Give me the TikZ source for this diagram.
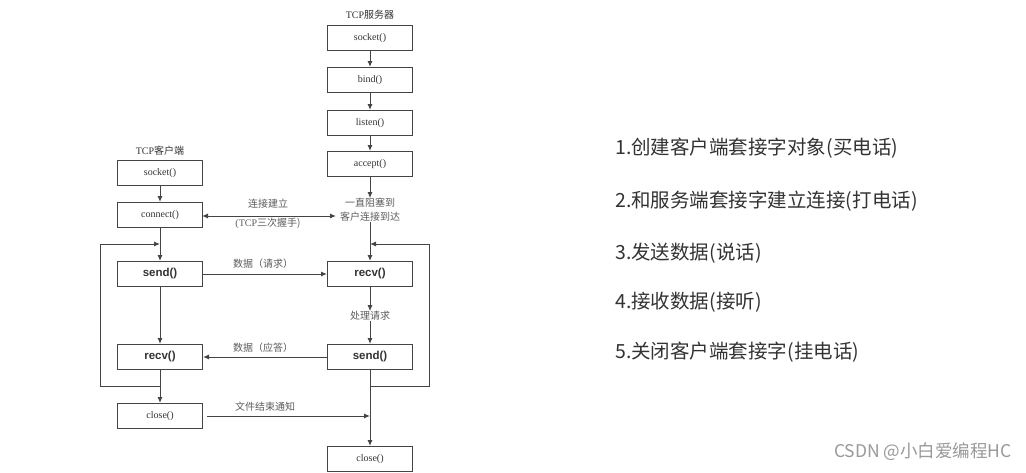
\documentclass[tikz,border=0pt]{standalone}
\usepackage{fontspec}
\setmainfont{Liberation Serif}
\newfontfamily\cjk{Noto Sans CJK SC}
\newfontfamily\lsans{Liberation Sans}
\usetikzlibrary{arrows.meta}
\definecolor{linec}{HTML}{444444}
\definecolor{txtc}{HTML}{333333}
\definecolor{wmc}{HTML}{999999}
\tikzset{
  box/.style={draw=linec, line width=1pt, minimum width=85pt, minimum height=25pt, inner sep=0pt, font=\fontsize{10}{12}\selectfont, text=txtc},
  bbox/.style={box, font=\lsans\bfseries\fontsize{11.5}{13}\selectfont},
  lbl/.style={inner sep=0pt, font=\cjk\fontsize{10}{12}\selectfont, text=txtc!80},
  ttl/.style={inner sep=0pt, font=\fontsize{10}{12}\selectfont, text=txtc},
  arr/.style={draw=linec, line width=1pt, -{Latex[length=6pt,width=5pt]}},
  note/.style={anchor=west, inner sep=0pt, font=\cjk\fontsize{19.5}{22}\selectfont, text=txtc},
}
\begin{document}
\begin{tikzpicture}[x=1pt,y=-1pt]
\useasboundingbox[fill=white] (0,0) rectangle (1026,472);
% client
\node[ttl] (ct) at (160,151) {TCP{\cjk 客户端}};
\node[box] (cs) at (160,173) {socket()};
\node[box] (cc) at (160,215) {connect()};
\node[bbox] (csend) at (160,274) {send()};
\node[bbox] (crecv) at (160,357) {recv()};
\node[box] (cclose) at (160,416) {close()};
% server
\node[ttl] (st) at (370,15) {TCP{\cjk 服务器}};
\node[box] (ss) at (370,38) {socket()};
\node[box] (sb) at (370,80) {bind()};
\node[box] (sl) at (370,123) {listen()};
\node[box] (sa) at (370,164) {accept()};
\node[lbl] (sw1) at (370,203) {一直阻塞到};
\node[lbl] (sw2) at (370,217) {客户连接到达};
\node[bbox] (srecv) at (370,274) {recv()};
\node[lbl] (sp) at (370,316) {处理请求};
\node[bbox] (ssend) at (370,357) {send()};
\node[box] (sclose) at (370,459) {close()};
% coordinates
\coordinate (cj) at (160,244);
\coordinate (cl1) at (100,244);
\coordinate (cl2) at (100,386);
\coordinate (cb) at (160,386);
\coordinate (sj) at (370,244);
\coordinate (sr1) at (429,244);
\coordinate (sr2) at (429,386);
\coordinate (sb2) at (370,386);
\coordinate (ce) at (370,416);
\coordinate (cstart) at (207,416);
\coordinate (wend) at (336,216);
\coordinate (wstart) at (202,216);
% client flow
\draw[arr] (cs) -- (cc);
\draw[arr] (cc) -- (csend);
\draw[arr] (csend) -- (crecv);
\draw[arr] (crecv) -- (cclose);
\draw[arr] (cb) -- (cl2) -- (cl1) -- (cj);
% server flow
\draw[arr] (ss) -- (sb);
\draw[arr] (sb) -- (sl);
\draw[arr] (sl) -- (sa);
\draw[arr] (sa) -- (sw1);
\draw[arr] (sw2) -- (srecv);
\draw[arr] (srecv) -- (sp);
\draw[arr] (sp) -- (ssend);
\draw[arr] (ssend) -- (sclose);
\draw[arr] (sb2) -- (sr2) -- (sr1) -- (sj);
% between
\draw[draw=linec, line width=1pt, {Latex[length=6pt,width=5pt]}-{Latex[length=6pt,width=5pt]}] (wstart) -- (wend);
\node[lbl] (l1) at (268,204) {连接建立};
\node[lbl] (l2) at (268,223) {{\rmfamily(TCP}三次握手)};
\draw[arr] (csend) -- (srecv);
\node[lbl] (l3) at (263,264) {数据（请求）};
\draw[arr] (ssend) -- (crecv);
\node[lbl] (l4) at (263,348) {数据（应答）};
\draw[arr] (cstart) -- (ce);
\node[lbl] (l5) at (265,407) {文件结束通知};
% notes
\node[note] (n1) at (615,148) {1.创建客户端套接字对象(买电话)};
\node[note] (n2) at (615,201) {2.和服务端套接字建立连接(打电话)};
\node[note] (n3) at (615,253) {3.发送数据(说话)};
\node[note] (n4) at (615,302) {4.接收数据(接听)};
\node[note] (n5) at (615,352) {5.关闭客户端套接字(挂电话)};
\node[anchor=east, inner sep=0pt, font=\cjk\fontsize{17.5}{20}\selectfont, text=wmc] (wm) at (1012,452) {CSDN @小白爱编程HC};
\end{tikzpicture}
\end{document}
